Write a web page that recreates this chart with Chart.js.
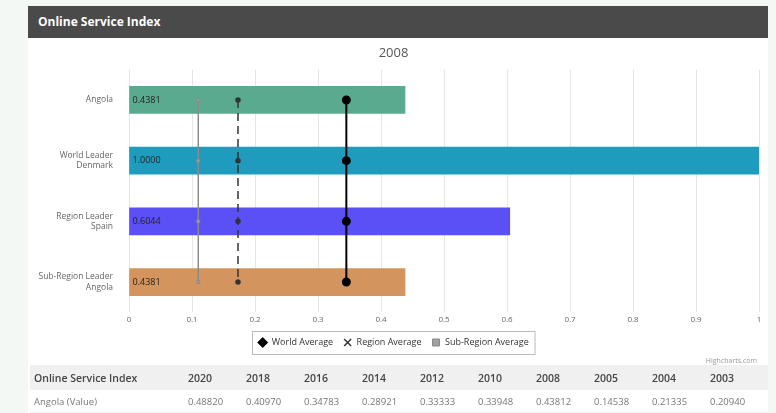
<!DOCTYPE html>
<html>
<head>
<meta charset="utf-8">
<script src="https://cdn.jsdelivr.net/npm/chart.js@4"></script>
<style>
  body { margin: 0; background: #f4f8f5; font-family: "Open Sans", sans-serif; }
  .panel { position: absolute; left: 28px; top: 6px; width: 740px; height: 407px; background: #fff; }
  .head { height: 32px; background: #4a4a4a; color: #fff; font-weight: 700; font-size: 12px; line-height: 32px; padding-left: 10px; }
  .chart-box { position: absolute; left: 0; top: 31px; width: 740px; height: 325px; }
  .credit { position: absolute; right: 11px; top: 350px; font-size: 7px; color: #999; }
  table { position: absolute; left: 2px; top: 359px; border-collapse: collapse; table-layout: fixed; width: 738px; }
  td, th { padding: 0; text-align: left; white-space: nowrap; }
  th { background: #f0f0f0; height: 25px; font-size: 10.5px; font-weight: 600; color: #444; }
  td { height: 22px; font-size: 9.5px; color: #777; border-bottom: 1px solid #eee; }
  th:first-child, td:first-child { padding-left: 4px; }
</style>
</head>
<body>
<div class="panel">
  <div class="head">Online Service Index</div>
  <div class="chart-box"><canvas id="c"></canvas></div>
  <div class="credit">Highcharts.com</div>
  <table id="tbl"></table>
</div>
<script>
const year = '2008';
const categories = [['Angola'], ['World Leader', 'Denmark'], ['Region Leader', 'Spain'], ['Sub-Region Leader', 'Angola']];
const barValues = [0.4381, 1.0000, 0.6044, 0.4381];
const barColors = ['#5aaa90', '#1f9bbd', '#5a50f5', '#d4945e'];
const worldAverage = [0.345, 0.345, 0.345, 0.345];
const regionAverage = [0.173, 0.173, 0.173, 0.173];
const subRegionAverage = [0.110, 0.110, 0.110, 0.110];
const xTicks = [0, 0.1, 0.2, 0.3, 0.4, 0.5, 0.6, 0.7, 0.8, 0.9, 1];

const tableYears = ['2020', '2018', '2016', '2014', '2012', '2010', '2008', '2005', '2004', '2003'];
const tableValues = [0.48820, 0.40970, 0.34783, 0.28921, 0.33333, 0.33948, 0.43812, 0.14538, 0.21335, 0.20940];

// table under the chart
const tbl = document.getElementById('tbl');
let html = '<colgroup><col style="width:158px">' + tableYears.map(() => '<col style="width:58px">').join('') + '</colgroup>';
html += '<tr><th>Online Service Index</th>' + tableYears.map(y => '<th>' + y + '</th>').join('') + '</tr>';
html += '<tr><td>Angola (Value)</td>' + tableValues.map(v => '<td>' + v.toFixed(5) + '</td>').join('') + '</tr>';
tbl.innerHTML = html;

const font = "'Open Sans', sans-serif";
const legendMarks = ['rectRot', 'crossRot', 'rect'];

const barLabels = {
  id: 'barLabels',
  afterDatasetsDraw(chart) {
    const { ctx } = chart;
    const meta = chart.getDatasetMeta(0);
    ctx.save();
    ctx.font = '9px ' + font;
    ctx.fillStyle = '#222';
    ctx.textBaseline = 'middle';
    meta.data.forEach((el, i) => {
      ctx.fillText(barValues[i].toFixed(4), el.base + 3, el.y);
    });
    ctx.restore();
  }
};

const legendBorder = {
  id: 'legendBorder',
  afterDraw(chart) {
    const boxes = chart.legend.legendHitBoxes;
    if (!boxes.length) return;
    const left = Math.min(...boxes.map(b => b.left)) - 6;
    const right = Math.max(...boxes.map(b => b.left + b.width)) + 6;
    const top = boxes[0].top - 7;
    const bottom = boxes[0].top + boxes[0].height + 7;
    const { ctx } = chart;
    ctx.save();
    ctx.strokeStyle = '#bbb';
    ctx.lineWidth = 1;
    ctx.strokeRect(Math.round(left) + 0.5, Math.round(top) + 0.5, right - left, bottom - top);
    ctx.restore();
  }
};

new Chart(document.getElementById('c'), {
  type: 'bar',
  data: {
    labels: categories,
    datasets: [{
      label: year,
      data: barValues,
      backgroundColor: barColors,
      barThickness: 27,
      order: 1
    }, {
      type: 'line',
      label: 'World Average',
      data: worldAverage,
      borderColor: '#000',
      backgroundColor: '#000',
      borderWidth: 2,
      pointStyle: 'circle',
      pointRadius: 3.5,
      order: 0
    }, {
      type: 'line',
      label: 'Region Average',
      data: regionAverage,
      borderColor: '#333',
      backgroundColor: '#333',
      borderWidth: 1.5,
      borderDash: [8, 5],
      pointStyle: 'circle',
      pointRadius: 2,
      order: 0
    }, {
      type: 'line',
      label: 'Sub-Region Average',
      data: subRegionAverage,
      borderColor: '#8a8a8a',
      backgroundColor: '#a0a0a0',
      borderWidth: 1,
      pointStyle: 'rect',
      pointRadius: 2,
      order: 0
    }]
  },
  options: {
    indexAxis: 'y',
    responsive: true,
    maintainAspectRatio: false,
    animation: false,
    layout: { padding: { right: 9, bottom: 5 } },
    plugins: {
      title: {
        display: true,
        text: year,
        color: '#555',
        font: { family: font, size: 13, weight: 'normal' },
        padding: { top: 8, bottom: 9 }
      },
      legend: {
        position: 'bottom',
        labels: {
          filter: item => item.datasetIndex > 0,
          usePointStyle: true,
          boxHeight: 7,
          color: '#333',
          padding: 10,
          font: { family: font, size: 9 },
          generateLabels: chart => Chart.defaults.plugins.legend.labels.generateLabels(chart).map(item => {
            if (item.datasetIndex > 0) {
              item.pointStyle = legendMarks[item.datasetIndex - 1];
              item.lineWidth = item.datasetIndex === 2 ? 1.5 : 1;
              item.lineDash = [];
            }
            return item;
          })
        }
      },
      tooltip: { enabled: false }
    },
    scales: {
      x: {
        min: 0,
        max: 1,
        afterBuildTicks: scale => { scale.ticks = xTicks.map(v => ({ value: v })); },
        ticks: {
          color: '#666',
          padding: 3,
          font: { family: font, size: 8 },
          callback: v => String(v)
        },
        grid: { color: '#e6e6e6', drawTicks: false },
        border: { display: false }
      },
      y: {
        afterFit: scale => { scale.width = 101; },
        ticks: {
          color: '#666',
          padding: 8,
          font: { family: font, size: 8.5 }
        },
        grid: { display: false },
        border: { display: false }
      }
    }
  },
  plugins: [barLabels, legendBorder]
});
</script>
</body>
</html>
